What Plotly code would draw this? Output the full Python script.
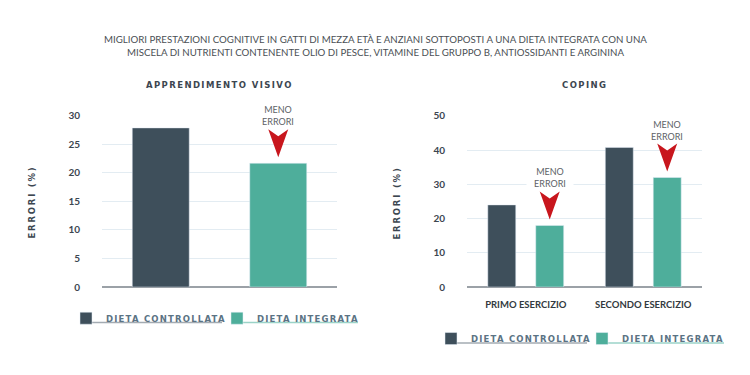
import plotly.graph_objects as go

# ---------------- data ----------------
main_title = ("MIGLIORI PRESTAZIONI COGNITIVE IN GATTI DI MEZZA ETÀ E ANZIANI SOTTOPOSTI A UNA DIETA INTEGRATA CON UNA<br>"
              "MISCELA DI NUTRIENTI CONTENENTE OLIO DI PESCE, VITAMINE DEL GRUPPO B, ANTIOSSIDANTI E ARGININA")
series_names = ["DIETA CONTROLLATA", "DIETA INTEGRATA"]

left_title = "APPRENDIMENTO VISIVO"
left_categories = ["DIETA CONTROLLATA", "DIETA INTEGRATA"]
left_controllata = [27.9]
left_integrata = [21.7]
left_ticks = [0, 5, 10, 15, 20, 25, 30]

right_title = "COPING"
right_categories = ["PRIMO ESERCIZIO", "SECONDO ESERCIZIO"]
right_controllata = [24.0, 40.8]
right_integrata = [18.0, 32.0]
right_ticks = [0, 10, 20, 30, 40, 50]

y_title = "ERRORI (%)"
note_text = "MENO<br>ERRORI"

# ---------------- style ----------------
W, H = 750, 375
DARK = "#3e4f5b"
TEAL = "#4eae9b"
RED = "#c8161d"
GRID = "#e3ecf2"
AXISLINE = "#9ba1a7"
TXT = "#3c4650"
LEG = "#5b7384"
SPACED = "DejaVu Sans"
BODY = "Lato"


def px(x):
    return x / W


def py(y):
    return 1 - y / H


def spaced(t, ls):
    return f"<span style='letter-spacing:{ls}px'>{t}</span>"


fig = go.Figure()

LEG_LS = 1.2
fig.add_trace(go.Bar(x=[left_categories[0]], y=left_controllata, name=spaced(series_names[0], LEG_LS),
                     marker_color=DARK, width=0.485, offset=-0.2425,
                     xaxis="x", yaxis="y", legend="legend"))
fig.add_trace(go.Bar(x=[left_categories[1]], y=left_integrata, name=spaced(series_names[1], LEG_LS),
                     marker_color=TEAL, width=0.485, offset=-0.2425,
                     xaxis="x", yaxis="y", legend="legend"))

fig.add_trace(go.Bar(x=right_categories, y=right_controllata, name=spaced(series_names[0], LEG_LS),
                     marker_color=DARK, width=0.238, offset=-0.323,
                     xaxis="x2", yaxis="y2", legend="legend2"))
fig.add_trace(go.Bar(x=right_categories, y=right_integrata, name=spaced(series_names[1], LEG_LS),
                     marker_color=TEAL, width=0.238, offset=0.085,
                     xaxis="x2", yaxis="y2", legend="legend2"))

ydom = [py(289.3), py(112.5)]
tickfont = dict(family=BODY, size=10, color=TXT, weight="bold")
legfont = dict(family=SPACED, size=8.5, color=LEG, weight="bold")

fig.update_layout(
    width=W, height=H,
    margin=dict(l=0, r=0, t=0, b=0),
    paper_bgcolor="white", plot_bgcolor="white",
    showlegend=True,
    xaxis=dict(domain=[px(102), px(337)], type="category", categoryarray=left_categories,
               range=[-0.5, 1.5], showticklabels=False, showgrid=False, zeroline=False,
               fixedrange=True),
    yaxis=dict(domain=ydom, range=[0, 30], tickvals=left_ticks, tickfont=tickfont,
               gridcolor=GRID, gridwidth=1, zeroline=True, zerolinecolor=AXISLINE,
               zerolinewidth=2, ticklabelstandoff=21, fixedrange=True),
    xaxis2=dict(domain=[px(467), px(702)], type="category", categoryarray=right_categories,
                range=[-0.5, 1.5], showgrid=False, zeroline=False, ticks="",
                tickfont=dict(family=BODY, size=9.5, color="#333a40", weight="bold"),
                ticklabelstandoff=10, fixedrange=True, anchor="y2"),
    yaxis2=dict(domain=ydom, range=[0, 50], tickvals=right_ticks, tickfont=tickfont,
                gridcolor=GRID, gridwidth=1, zeroline=True, zerolinecolor=AXISLINE,
                zerolinewidth=2, ticklabelstandoff=21, fixedrange=True, anchor="x2"),
    legend=dict(orientation="h", x=px(66), y=py(321.5), xanchor="left", yanchor="middle",
                font=legfont, entrywidth=106, itemwidth=30,
                bgcolor="rgba(0,0,0,0)", traceorder="normal"),
    legend2=dict(orientation="h", x=px(431), y=py(342.5), xanchor="left", yanchor="middle",
                 font=legfont, entrywidth=106, itemwidth=30,
                 bgcolor="rgba(0,0,0,0)", traceorder="normal"),
)


def label(text, x, y, font, angle=0):
    return dict(text=text, x=px(x), y=py(y), xref="paper", yref="paper", showarrow=False,
                xanchor="center", yanchor="middle", align="center", textangle=angle, font=font)


titlefont = dict(family=SPACED, size=8.5, color=TXT, weight="bold")
annotations = [
    label(main_title, 375, 40, dict(family=BODY, size=9.7, color="#4a4f54")),
    label(spaced(left_title, 1.4), 219.5, 81, titlefont),
    label(spaced(right_title, 1.4), 584.5, 81, titlefont),
    label(spaced(y_title, 1.8), 32, 202, titlefont, -90),
    label(spaced(y_title, 1.8), 397, 203, titlefont, -90),
]

shapes = []
note_font = dict(family=BODY, size=9, color="#5d6266")
arrow_path = "M-10,34 L0,27 L10,34 L0,6 Z"

left_targets = [(1.0, left_integrata[0], "x", "y")]
right_targets = [(i + 0.085 + 0.119, v, "x2", "y2") for i, v in enumerate(right_integrata)]
for xc, v, xr, yr in left_targets + right_targets:
    shapes.append(dict(type="path", xref=xr, yref=yr, xsizemode="pixel", ysizemode="pixel",
                       xanchor=xc, yanchor=v, path=arrow_path,
                       fillcolor=RED, line=dict(width=0), layer="above"))
    annotations.append(dict(text=note_text, x=xc, y=v, xref=xr, yref=yr, showarrow=False,
                            xanchor="center", yanchor="bottom", yshift=35, width=46,
                            bgcolor="white", borderpad=0, font=note_font))

# legend underlines
for x0, x1, c, yy in [(80, 222, "#a3abb2", 326), (234, 358, "#9bd3c8", 326),
                      (445, 587, "#a3abb2", 347), (600, 724, "#9bd3c8", 347)]:
    shapes.append(dict(type="line", xref="paper", yref="paper", x0=px(x0), x1=px(x1),
                       y0=py(yy), y1=py(yy), line=dict(color=c, width=1.5)))

fig.update_layout(annotations=annotations, shapes=shapes)
fig.write_html("out.html", config={"displayModeBar": False},
               post_script="document.body.style.margin='0';"
                           "document.body.style.overflow='hidden';"
                           "document.documentElement.style.overflow='hidden';")
